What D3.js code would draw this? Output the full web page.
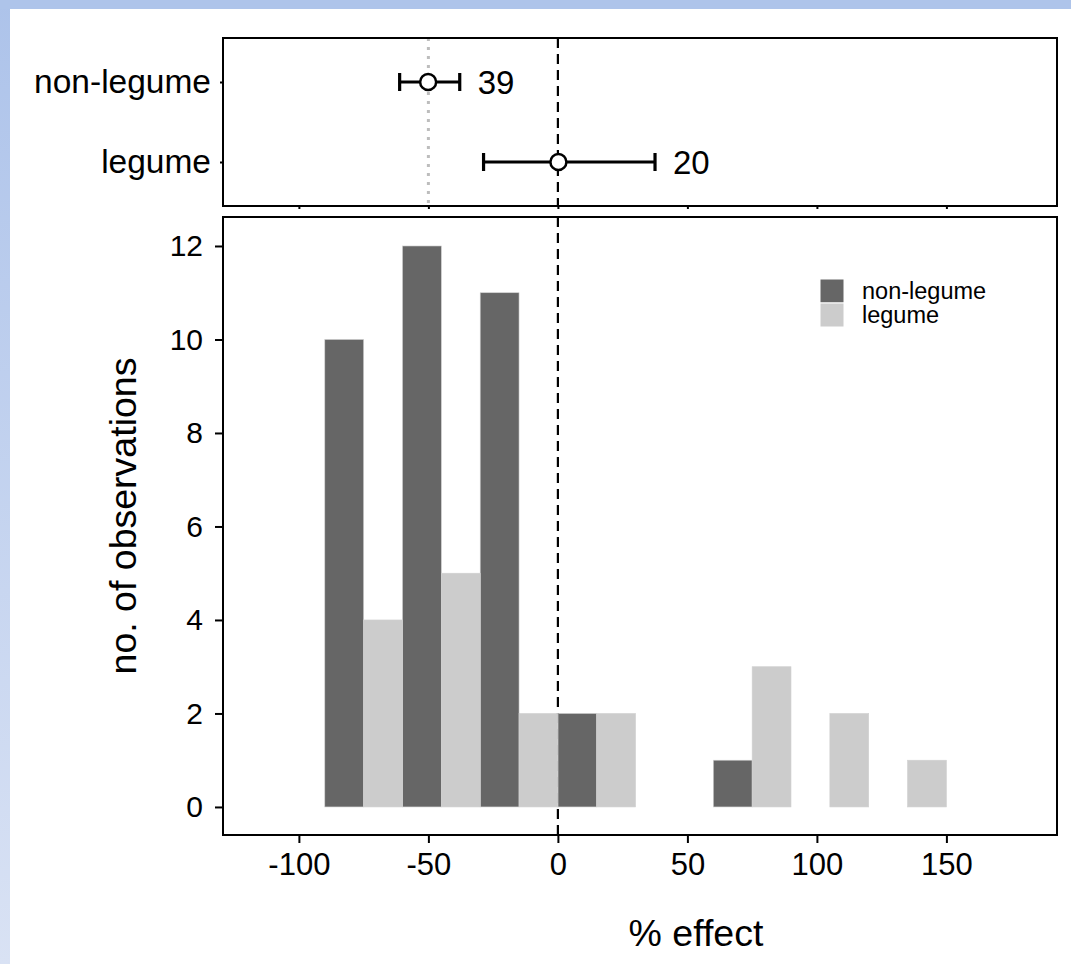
<!DOCTYPE html>
<html>
<head>
<meta charset="utf-8">
<script src="https://cdn.jsdelivr.net/npm/d3@7"></script>
<style>
  html, body { margin: 0; padding: 0; background: #ffffff; }
  svg { display: block; font-family: "Liberation Sans", Arial, sans-serif; }
</style>
</head>
<body>
<svg id="chart" width="1071" height="964"></svg>
<script>
// ---------- data ----------
const groups = ["non-legume", "legume"];
const groupColors = ["#666666", "#cccccc"];
const binStarts = [-90, -60, -30, 0, 30, 60, 90, 120];
const binWidth = 30;
const countsNonLegume = [10, 12, 11, 2, 0, 1, 0, 0];
const countsLegume = [4, 5, 2, 2, 0, 3, 2, 1];
const effectMean = [-50.1, 0.2];
const effectLow = [-61.1, -28.7];
const effectHigh = [-37.9, 37.5];
const sampleSize = [39, 20];
const refLine = 0;
const nonLegumeRefLine = -50;
const xTicks = [-100, -50, 0, 50, 100, 150];
const yTicks = [0, 2, 4, 6, 8, 10, 12];

// ---------- layout ----------
const svg = d3.select("#chart");
const W = 1071, H = 964;
const panelL = 223, panelR = 1057;
const topT = 38, topB = 206;
const botT = 217, botB = 835;

// background frame (blue border)
const defs = svg.append("defs");
const grad = defs.append("linearGradient").attr("id", "leftGrad")
  .attr("x1", 0).attr("y1", 0).attr("x2", 0).attr("y2", 1);
grad.append("stop").attr("offset", "0%").attr("stop-color", "#adc3ea");
grad.append("stop").attr("offset", "100%").attr("stop-color", "#d9e2f4");
svg.append("rect").attr("x", 0).attr("y", 0).attr("width", W).attr("height", H).attr("fill", "#ffffff");
svg.append("rect").attr("x", 0).attr("y", 0).attr("width", 10).attr("height", H).attr("fill", "url(#leftGrad)");
svg.append("rect").attr("x", 0).attr("y", 0).attr("width", W).attr("height", 9).attr("fill", "#aec4ea");

// ---------- scales ----------
const x = d3.scaleLinear().domain([-129.3, 192.7]).range([panelL, panelR]);
const yCat = d3.scalePoint().domain(groups).range([topT, topB]).padding(0.55);
const y = d3.scaleLinear().domain([-0.6, 12.62]).range([botB, botT]);
const plainFmt = d => String(d);

// ---------- top panel ----------
const topPanel = svg.append("g");
topPanel.append("line")
  .attr("x1", x(nonLegumeRefLine)).attr("x2", x(nonLegumeRefLine))
  .attr("y1", topT).attr("y2", topB)
  .attr("stroke", "#bdbdbd").attr("stroke-width", 3)
  .attr("stroke-dasharray", "3,6");
topPanel.append("line")
  .attr("x1", x(refLine)).attr("x2", x(refLine))
  .attr("y1", topT).attr("y2", topB)
  .attr("stroke", "#000").attr("stroke-width", 2.2)
  .attr("stroke-dasharray", "10,6");

groups.forEach((g, i) => {
  const cy = yCat(g);
  const eg = topPanel.append("g");
  eg.append("line").attr("x1", x(effectLow[i])).attr("x2", x(effectHigh[i]))
    .attr("y1", cy).attr("y2", cy).attr("stroke", "#000").attr("stroke-width", 3.2);
  [effectLow[i], effectHigh[i]].forEach(v => {
    eg.append("line").attr("x1", x(v)).attr("x2", x(v))
      .attr("y1", cy - 9).attr("y2", cy + 9).attr("stroke", "#000").attr("stroke-width", 3.2);
  });
  eg.append("circle").attr("cx", x(effectMean[i])).attr("cy", cy).attr("r", 8)
    .attr("fill", "#fff").attr("stroke", "#000").attr("stroke-width", 2.5);
  eg.append("text").attr("x", x(effectHigh[i]) + 18).attr("y", cy)
    .attr("dy", "0.36em").attr("font-size", 33).attr("fill", "#000")
    .text(sampleSize[i]);
});

topPanel.append("rect").attr("x", panelL).attr("y", topT)
  .attr("width", panelR - panelL).attr("height", topB - topT)
  .attr("fill", "none").attr("stroke", "#000").attr("stroke-width", 2);

const topYAxis = topPanel.append("g").attr("transform", `translate(${panelL},0)`)
  .call(d3.axisLeft(yCat).tickSize(3).tickPadding(9));
topYAxis.select(".domain").remove();
topYAxis.selectAll("line").attr("stroke", "#000").attr("stroke-width", 2);
topYAxis.selectAll("text").attr("font-size", 33.5).attr("fill", "#000")
  .attr("font-family", "Liberation Sans, Arial, sans-serif");

const topXAxis = topPanel.append("g").attr("transform", `translate(0,${topB})`)
  .call(d3.axisBottom(x).tickValues(xTicks).tickSize(3).tickFormat(""));
topXAxis.select(".domain").remove();
topXAxis.selectAll("line").attr("stroke", "#000").attr("stroke-width", 2);

// ---------- bottom panel ----------
const botPanel = svg.append("g");
botPanel.append("line")
  .attr("x1", x(refLine)).attr("x2", x(refLine))
  .attr("y1", botT).attr("y2", botB)
  .attr("stroke", "#000").attr("stroke-width", 2.2)
  .attr("stroke-dasharray", "10,6");

const series = [countsNonLegume, countsLegume];
series.forEach((counts, si) => {
  const data = binStarts.map((b, i) => ({ start: b, n: counts[i] })).filter(d => d.n > 0);
  botPanel.append("g").selectAll("rect").data(data).join("rect")
    .attr("x", d => x(d.start + si * binWidth / 2))
    .attr("width", d => x(d.start + (si + 1) * binWidth / 2) - x(d.start + si * binWidth / 2))
    .attr("y", d => y(d.n))
    .attr("height", d => y(0) - y(d.n))
    .attr("fill", groupColors[si])
    .attr("stroke", "#d0d0d0").attr("stroke-width", 0.6);
});

botPanel.append("rect").attr("x", panelL).attr("y", botT)
  .attr("width", panelR - panelL).attr("height", botB - botT)
  .attr("fill", "none").attr("stroke", "#000").attr("stroke-width", 2);

const yAxis = botPanel.append("g").attr("transform", `translate(${panelL},0)`)
  .call(d3.axisLeft(y).tickValues(yTicks).tickSize(8).tickPadding(12).tickFormat(plainFmt));
yAxis.select(".domain").remove();
yAxis.selectAll("line").attr("stroke", "#000").attr("stroke-width", 2);
yAxis.selectAll("text").attr("font-size", 30).attr("fill", "#000")
  .attr("font-family", "Liberation Sans, Arial, sans-serif");

const xAxis = botPanel.append("g").attr("transform", `translate(0,${botB})`)
  .call(d3.axisBottom(x).tickValues(xTicks).tickSize(8).tickPadding(10).tickFormat(plainFmt));
xAxis.select(".domain").remove();
xAxis.selectAll("line").attr("stroke", "#000").attr("stroke-width", 2);
xAxis.selectAll("text").attr("font-size", 31).attr("fill", "#000")
  .attr("font-family", "Liberation Sans, Arial, sans-serif");

// axis titles
svg.append("text").attr("x", (panelL + panelR) / 2 + 56).attr("y", 946)
  .attr("text-anchor", "middle").attr("font-size", 37.5).attr("fill", "#000")
  .text("% effect");
svg.append("text")
  .attr("transform", `translate(136,516) rotate(-90)`)
  .attr("text-anchor", "middle").attr("font-size", 37.5).attr("fill", "#000")
  .text("no. of observations");

// legend
const leg = svg.append("g").attr("transform", "translate(820,279)");
groups.forEach((g, i) => {
  leg.append("rect").attr("x", 0).attr("y", i * 24).attr("width", 24).attr("height", 24)
    .attr("fill", groupColors[i]).attr("stroke", "#fff").attr("stroke-width", 1);
  leg.append("text").attr("x", 42).attr("y", i * 24 + 12).attr("dy", "0.36em")
    .attr("font-size", 23.5).attr("fill", "#000").text(g);
});
</script>
</body>
</html>
